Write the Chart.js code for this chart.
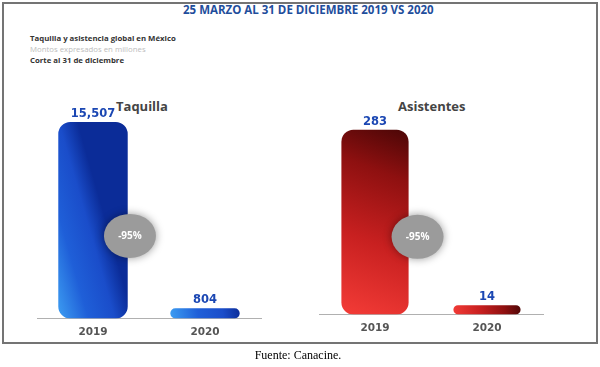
<!DOCTYPE html>
<html>
<head>
<meta charset="utf-8">
<script src="https://cdn.jsdelivr.net/npm/chart.js@4"></script>
<style>
  body { margin: 0; width: 600px; height: 367px; background: #fff; position: relative; overflow: hidden; }
  .marco { position: absolute; left: 2px; top: 2px; width: 592px; height: 338px; border: 2px solid #747474; }
  .titulo { position: absolute; left: 183px; top: 2px; font: bold 11.5px "Open Sans", sans-serif; color: #1f4e9c; white-space: nowrap; }
  .sub { position: absolute; left: 30px; top: 33px; font: 7.8px/11px "Open Sans", sans-serif; white-space: nowrap; }
  .sub .b { font-weight: bold; color: #333; }
  .sub .g { color: #bdbdbd; }
  .panel { position: absolute; top: 97px; font: bold 13px "Open Sans", sans-serif; color: #444; white-space: nowrap; }
  .fuente { position: absolute; left: 0; width: 596px; top: 348px; text-align: center; font: 12px "Liberation Serif", serif; color: #000; }
  canvas { position: absolute; top: 0; }
</style>
</head>
<body>
<div class="marco"></div>
<div class="titulo">25 MARZO AL 31 DE DICIEMBRE 2019 VS 2020</div>
<div class="sub">
  <div class="b">Taquilla y asistencia global en México</div>
  <div class="g">Montos expresados en millones</div>
  <div class="b">Corte al 31 de diciembre</div>
</div>
<div class="panel" style="left:116px">Taquilla</div>
<div class="panel" style="left:398px">Asistentes</div>
<canvas id="chartTaquilla" width="300" height="367" style="left:0"></canvas>
<canvas id="chartAsistentes" width="300" height="367" style="left:300px"></canvas>
<div class="fuente">Fuente: Canacine.</div>

<script>
const anios = ["2019", "2020"];
const taquilla = [15507, 804];
const asistentes = [283, 14];
const variacion = ["-95%", "-95%"];

const azul = ["#3d9ef2", "#1f5fd8", "#1a4dca", "#0b2c98"];
const rojo = ["#f43c37", "#c82020", "#8e1010", "#4a0606"];

// degradado por barra, de abajo-izquierda hacia arriba-derecha
function degradado(ctx, colores, inclinacion) {
  const chart = ctx.chart;
  if (!chart.chartArea) return colores[1];
  const xs = chart.scales.x;
  const ys = chart.scales.y;
  const x = xs.getPixelForValue(ctx.dataIndex);
  const base = ys.getPixelForValue(0);
  const top = ys.getPixelForValue(ctx.raw);
  const g = chart.ctx.createLinearGradient(x - 35, base, x + 35, base - Math.min(base - top, inclinacion));
  g.addColorStop(0, colores[0]);
  g.addColorStop(0.4, colores[1]);
  g.addColorStop(0.75, colores[2]);
  g.addColorStop(1, colores[3]);
  return g;
}

// etiquetas de valor y el circulo gris de variacion
const extras = {
  id: "extras",
  afterDatasetsDraw(chart, args, opts) {
    const c = chart.ctx;
    const meta = chart.getDatasetMeta(0);
    const datos = chart.data.datasets[0].data;

    c.save();
    c.font = "bold 11.5px 'DejaVu Sans', sans-serif";
    c.fillStyle = "#1b47b3";
    c.textAlign = "center";
    c.textBaseline = "middle";
    meta.data.forEach((bar, i) => {
      c.fillText(datos[i].toLocaleString("en-US"), bar.x, bar.y - 8);
    });

    const b0 = meta.data[0];
    const b1 = meta.data[1];
    const cx = b0.x + (b1.x - b0.x) * opts.fx;
    const cy = chart.chartArea.bottom - (chart.chartArea.bottom - b0.y) * 0.42;
    c.shadowColor = "rgba(0,0,0,0.4)";
    c.shadowBlur = 8;
    c.fillStyle = "#9b9b9b";
    c.beginPath();
    c.ellipse(cx, cy, 26, 22, 0, 0, Math.PI * 2);
    c.fill();
    c.shadowBlur = 0;
    c.shadowColor = "transparent";
    c.fillStyle = "#fff";
    c.font = "bold 10px 'Open Sans', sans-serif";
    c.fillText(opts.texto, cx, cy);
    c.restore();
  },
};

function crearGrafica(id, datos, colores, inclinacion, padding, barPct, fx, texto) {
  return new Chart(document.getElementById(id).getContext("2d"), {
    type: "bar",
    data: {
      labels: anios,
      datasets: [
        {
          data: datos,
          backgroundColor: (ctx) => degradado(ctx, colores, inclinacion),
          borderRadius: 12,
          borderSkipped: false,
          categoryPercentage: 1,
          barPercentage: barPct,
        },
      ],
    },
    options: {
      responsive: false,
      animation: false,
      devicePixelRatio: 1,
      layout: { padding: padding },
      plugins: {
        legend: { display: false },
        tooltip: { enabled: false },
        extras: { fx: fx, texto: texto },
      },
      scales: {
        x: {
          grid: { display: false, drawTicks: false },
          border: { display: true, color: "#b0b0b0", width: 1 },
          ticks: {
            padding: 8,
            color: "#555",
            font: { family: "DejaVu Sans", weight: "bold", size: 10.5 },
          },
        },
        y: {
          display: false,
          min: 0,
          max: Math.max(...datos) * 1.112,
        },
      },
    },
    plugins: [extras],
  });
}

crearGrafica("chartTaquilla", taquilla, azul, 20,
  { left: 37, right: 39, top: 100, bottom: 20 }, 0.62, 0.33, variacion[0]);
crearGrafica("chartAsistentes", asistentes, rojo, 1000,
  { left: 19, right: 57, top: 109, bottom: 24 }, 0.6, 0.38, variacion[1]);
</script>
</body>
</html>
